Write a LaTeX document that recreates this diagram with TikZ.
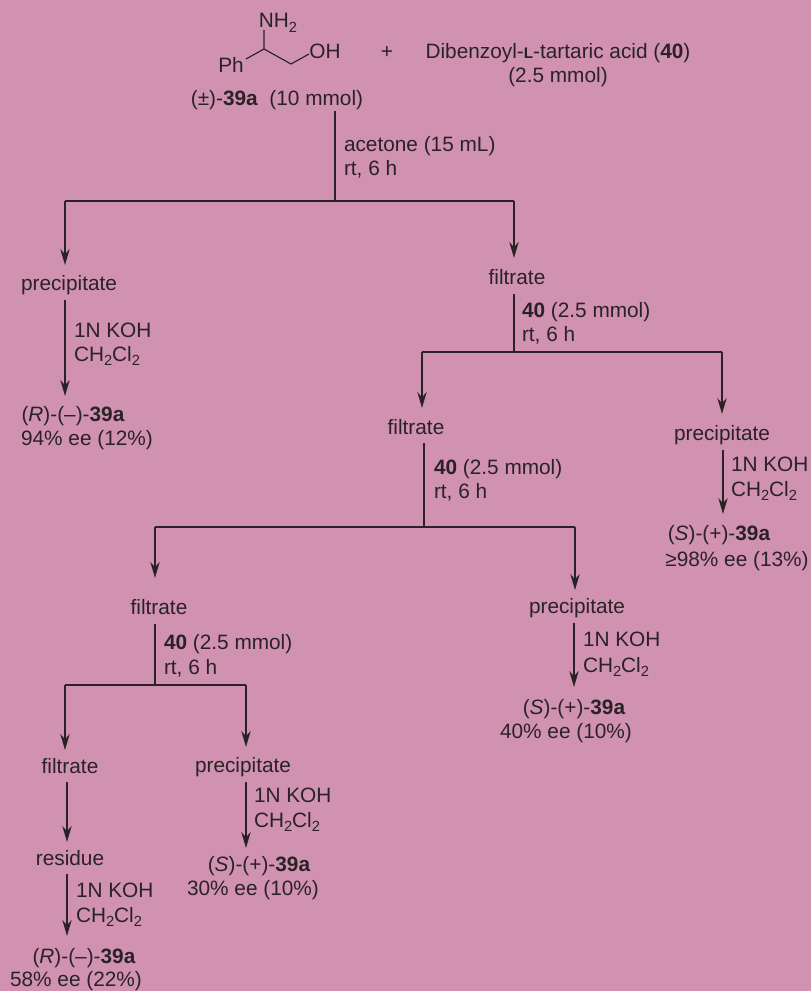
\documentclass[tikz,border=0pt]{standalone}
\usepackage{fontspec}
\setmainfont{Liberation Sans}
\usetikzlibrary{arrows.meta}
\definecolor{bgpink}{HTML}{D092B0}
\definecolor{ink}{HTML}{2A2226}
\newcommand{\sbs}[1]{\raisebox{-0.22em}{\fontsize{11pt}{11pt}\selectfont #1}}
\newcommand{\bfn}[1]{\textbf{#1}}
\begin{document}
\begin{tikzpicture}[x=0.75pt,y=-0.75pt,
  txt/.style={inner sep=0pt,outer sep=0pt,text=ink,font=\fontsize{15.6pt}{18pt}\selectfont,anchor=base,yshift=-0.75pt},
  lbl/.style={txt,anchor=base west},
  stem/.style={draw=ink,line width=1.1pt},
  flow/.style={stem,-{Stealth[length=12pt,width=7pt]}},
  bond/.style={draw=ink,line width=0.85pt}]
\useasboundingbox[fill=bgpink] (0,0) rectangle (811,991);
% top
\node[txt] (nh) at (278,27) {NH\sbs{2}};
\node[txt] (oh) at (325,58) {OH};
\node[txt] (ph) at (231,72) {Ph};
\node[txt] (plus) at (387,58) {+};
\node[txt] (dib) at (558,58) {Dibenzoyl-{\bfseries\fontsize{11.5pt}{12pt}\selectfont L}-tartaric acid (\bfn{40})};
\node[txt] (mm) at (558,82) {(2.5 mmol)};
\node[txt] (sm) at (277,105) {(±)-\bfn{39a}\ \ (10 mmol)};
\coordinate (c1) at (264,30); \coordinate (c2) at (264,49); \coordinate (c3) at (291,64);
\coordinate (c4) at (309,54); \coordinate (c5) at (246,59);
\draw[bond] (c1) -- (c2) -- (c3) -- (c4);
\draw[bond] (c2) -- (c5);
% step 1
\coordinate (s1) at (335,111); \coordinate (j1) at (335,201);
\coordinate (j1l) at (65,201); \coordinate (j1r) at (514,201);
\coordinate (e1l) at (65,265); \coordinate (e1r) at (514,258);
\draw[stem] (s1) -- (j1);
\draw[stem] (j1l) -- (j1r);
\draw[flow] (j1l) -- (e1l);
\draw[flow] (j1r) -- (e1r);
\node[lbl] (a1) at (344,151) {acetone (15 mL)};
\node[lbl] (a2) at (344,175) {rt, 6 h};
\node[txt] (p1) at (69,289) {precipitate};
\node[txt] (f1) at (517,283) {filtrate};
% left branch
\coordinate (s2) at (65,300); \coordinate (e2) at (65,396);
\draw[flow] (s2) -- (e2);
\node[lbl] (b1) at (74,336) {1N KOH};
\node[lbl] (b2) at (74,360) {CH\sbs{2}Cl\sbs{2}};
\node[txt] (r1) at (73,420) {(\textit{R})-(–)-\bfn{39a}};
\node[txt] (r1b) at (87,444) {94\% ee (12\%)};
% step 2
\coordinate (s3) at (514,294); \coordinate (j3) at (514,352);
\coordinate (j3l) at (422,352); \coordinate (j3r) at (722,352);
\coordinate (e3l) at (422,408); \coordinate (e3r) at (722,414);
\draw[stem] (s3) -- (j3);
\draw[stem] (j3l) -- (j3r);
\draw[flow] (j3l) -- (e3l);
\draw[flow] (j3r) -- (e3r);
\node[lbl] (c1t) at (522,316) {\bfn{40} (2.5 mmol)};
\node[lbl] (c2t) at (522,340) {rt, 6 h};
\node[txt] (f2) at (416,433) {filtrate};
\node[txt] (p2) at (722,439) {precipitate};
% right branch
\coordinate (s4) at (723,450); \coordinate (e4) at (723,514);
\draw[flow] (s4) -- (e4);
\node[lbl] (d1) at (731,470) {1N KOH};
\node[lbl] (d2) at (731,495) {CH\sbs{2}Cl\sbs{2}};
\node[txt] (r2) at (719,539) {(\textit{S})-(+)-\bfn{39a}};
\node[txt] (r2b) at (737,565) {≥98\% ee (13\%)};
% step 3
\coordinate (s5) at (424,443); \coordinate (j5) at (424,527);
\coordinate (j5l) at (155,527); \coordinate (j5r) at (575,527);
\coordinate (e5l) at (155,578); \coordinate (e5r) at (575,590);
\draw[stem] (s5) -- (j5);
\draw[stem] (j5l) -- (j5r);
\draw[flow] (j5l) -- (e5l);
\draw[flow] (j5r) -- (e5r);
\node[lbl] (e1t) at (434,473) {\bfn{40} (2.5 mmol)};
\node[lbl] (e2t) at (434,497) {rt, 6 h};
\node[txt] (f3) at (159,613) {filtrate};
\node[txt] (p3) at (577,612) {precipitate};
% middle branch
\coordinate (s6) at (574,623); \coordinate (e6) at (574,687);
\draw[flow] (s6) -- (e6);
\node[lbl] (g1) at (583,645) {1N KOH};
\node[lbl] (g2) at (583,671) {CH\sbs{2}Cl\sbs{2}};
\node[txt] (r3) at (574,713) {(\textit{S})-(+)-\bfn{39a}};
\node[txt] (r3b) at (566,737) {40\% ee (10\%)};
% step 4
\coordinate (s7) at (155,624); \coordinate (j7) at (155,685);
\coordinate (j7l) at (65,685); \coordinate (j7r) at (246,685);
\coordinate (e7l) at (65,750); \coordinate (e7r) at (246,747);
\draw[stem] (s7) -- (j7);
\draw[stem] (j7l) -- (j7r);
\draw[flow] (j7l) -- (e7l);
\draw[flow] (j7r) -- (e7r);
\node[lbl] (h1) at (164,648) {\bfn{40} (2.5 mmol)};
\node[lbl] (h2) at (164,673) {rt, 6 h};
\node[txt] (f4) at (70,772) {filtrate};
\node[txt] (p4) at (243,771) {precipitate};
% precipitate 4
\coordinate (s8) at (246,782); \coordinate (e8) at (246,848);
\draw[flow] (s8) -- (e8);
\node[lbl] (i1) at (254,801) {1N KOH};
\node[lbl] (i2) at (254,826) {CH\sbs{2}Cl\sbs{2}};
\node[txt] (r4) at (259,870) {(\textit{S})-(+)-\bfn{39a}};
\node[txt] (r4b) at (253,894) {30\% ee (10\%)};
% filtrate 4
\coordinate (s9) at (67,782); \coordinate (e9) at (67,842);
\draw[flow] (s9) -- (e9);
\node[txt] (res) at (70,864) {residue};
\coordinate (s10) at (67,874); \coordinate (e10) at (67,936);
\draw[flow] (s10) -- (e10);
\node[lbl] (k1) at (76,896) {1N KOH};
\node[lbl] (k2) at (76,921) {CH\sbs{2}Cl\sbs{2}};
\node[txt] (r5) at (84,962) {(\textit{R})-(–)-\bfn{39a}};
\node[txt] (r5b) at (76,985) {58\% ee (22\%)};
\end{tikzpicture}
\end{document}
